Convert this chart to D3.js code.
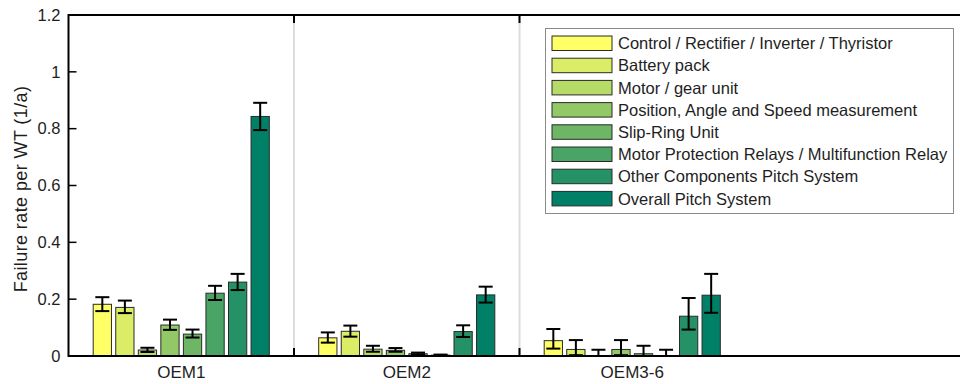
<!DOCTYPE html>
<html><head><meta charset="utf-8">
<script src="https://cdn.jsdelivr.net/npm/d3@7"></script>
<style>body{margin:0;background:#fff}svg{display:block}text{font-family:"Liberation Sans",Arial,sans-serif;fill:#1e1e1e}</style>
</head><body><svg id="c" width="960" height="384"></svg>
<script>
const groups = ["OEM1", "OEM2", "OEM3-6"];
const series = ["Control / Rectifier / Inverter / Thyristor", "Battery pack", "Motor / gear unit",
  "Position, Angle and Speed measurement", "Slip-Ring Unit", "Motor Protection Relays / Multifunction Relay",
  "Other Components Pitch System", "Overall Pitch System"];
const colors = ["#ffff66", "#dbed66", "#b6db66", "#92c866", "#6db666", "#49a466", "#249266", "#008066"];
// values per group (one entry per series)
const oem1 = [0.182, 0.171, 0.021, 0.109, 0.077, 0.221, 0.260, 0.843];
const oem2 = [0.064, 0.087, 0.024, 0.020, 0.008, 0.003, 0.086, 0.215];
const oem36 = [0.054, 0.023, 0.000, 0.023, 0.008, 0.000, 0.140, 0.214];
// error bar lower / upper bounds
const oem1Lo = [0.158, 0.151, 0.014, 0.092, 0.065, 0.197, 0.232, 0.795];
const oem1Hi = [0.207, 0.195, 0.029, 0.128, 0.093, 0.247, 0.289, 0.891];
const oem2Lo = [0.047, 0.068, 0.015, 0.015, 0.005, 0.001, 0.067, 0.188];
const oem2Hi = [0.083, 0.107, 0.036, 0.028, 0.012, 0.005, 0.108, 0.244];
const oem36Lo = [0.026, 0.003, 0.000, 0.003, 0.000, 0.000, 0.093, 0.152];
const oem36Hi = [0.095, 0.056, 0.022, 0.056, 0.036, 0.022, 0.204, 0.289];
const yTicks = [0, 0.2, 0.4, 0.6, 0.8, 1, 1.2];
const yLabel = "Failure rate per WT (1/a)";

const vals = [oem1, oem2, oem36], los = [oem1Lo, oem2Lo, oem36Lo], his = [oem1Hi, oem2Hi, oem36Hi];
const data = [];
groups.forEach((g, gi) => series.forEach((s, si) => data.push({g, s, si, v: vals[gi][si], lo: los[gi][si], hi: his[gi][si]})));

const svg = d3.select("#c");
const L = 68.5, R = 960, T = 15, B = 356;
const x0 = d3.scaleBand().domain(groups).range([L, L + 3 * 225.5]).paddingInner(0).paddingOuter(0);
const bw = x0.bandwidth();
const x1 = d3.scaleBand().domain(series).range([bw * 0.1, bw * 0.9]).paddingInner(0.19).paddingOuter(0.095);
const y = d3.scaleLinear().domain([0, 1.2]).range([B, T]);

// separators
const seps = groups.slice(1).map(g => x0(g));
svg.selectAll("line.sep").data(seps).join("line").attr("class", "sep")
  .attr("x1", d => d).attr("x2", d => d).attr("y1", T).attr("y2", B)
  .attr("stroke", "#dcdcdc").attr("stroke-width", 2);

// bars
const gBars = svg.append("g");
gBars.selectAll("rect").data(data).join("rect")
  .attr("x", d => x0(d.g) + x1(d.s)).attr("width", x1.bandwidth())
  .attr("y", d => y(d.v)).attr("height", d => y(0) - y(d.v))
  .attr("fill", d => colors[d.si]).attr("stroke", "#2a2a2a").attr("stroke-width", 1);

// error bars
const cap = 7;
const eg = svg.append("g").attr("stroke", "#000").attr("stroke-width", 2);
data.forEach(d => {
  const cx = x0(d.g) + x1(d.s) + x1.bandwidth() / 2;
  eg.append("line").attr("x1", cx).attr("x2", cx).attr("y1", y(d.lo)).attr("y2", y(d.hi));
  eg.append("line").attr("x1", cx - cap).attr("x2", cx + cap).attr("y1", y(d.lo)).attr("y2", y(d.lo));
  eg.append("line").attr("x1", cx - cap).attr("x2", cx + cap).attr("y1", y(d.hi)).attr("y2", y(d.hi));
});

// axes frame
const ax = svg.append("g").attr("stroke", "#000").attr("stroke-width", 2);
ax.append("line").attr("x1", L).attr("x2", R).attr("y1", B).attr("y2", B);
ax.append("line").attr("x1", L).attr("x2", R).attr("y1", T).attr("y2", T);
ax.append("line").attr("x1", L).attr("x2", L).attr("y1", T - 1).attr("y2", B + 1);
// y ticks
yTicks.forEach(t => {
  ax.append("line").attr("x1", L).attr("x2", L + 8).attr("y1", y(t)).attr("y2", y(t)).attr("stroke-width", 1.5);
  svg.append("text").attr("x", L - 8).attr("y", y(t)).attr("dy", "0.35em").attr("text-anchor", "end")
    .attr("font-size", 16.5).text(d3.format("~g")(t));
});
// separator ticks
seps.forEach(sx => {
  ax.append("line").attr("x1", sx).attr("x2", sx).attr("y1", B).attr("y2", B - 8).attr("stroke-width", 2);
  ax.append("line").attr("x1", sx).attr("x2", sx).attr("y1", T).attr("y2", T + 8).attr("stroke-width", 2);
});
// group labels
svg.selectAll("text.gl").data(groups).join("text").attr("class", "gl")
  .attr("x", d => x0(d) + bw / 2).attr("y", 378).attr("text-anchor", "middle").attr("font-size", 17).text(d => d);
// y label
svg.append("text").attr("transform", `translate(27,189) rotate(-90)`).attr("text-anchor", "middle")
  .attr("font-size", 18).attr("letter-spacing", 0.4).text(yLabel);

// legend
const lg = svg.append("g");
lg.append("rect").attr("x", 545.5).attr("y", 28.5).attr("width", 408).attr("height", 185)
  .attr("fill", "#fff").attr("stroke", "#8a8a8a").attr("stroke-width", 1);
series.forEach((s, i) => {
  const yy = 36 + i * 22.2;
  lg.append("rect").attr("x", 552).attr("y", yy).attr("width", 60).attr("height", 14.5)
    .attr("fill", colors[i]).attr("stroke", "#2a2a2a").attr("stroke-width", 1);
  lg.append("text").attr("x", 618).attr("y", yy + 7.5).attr("dy", "0.35em").attr("font-size", 16.5).text(s);
});
</script></body></html>
